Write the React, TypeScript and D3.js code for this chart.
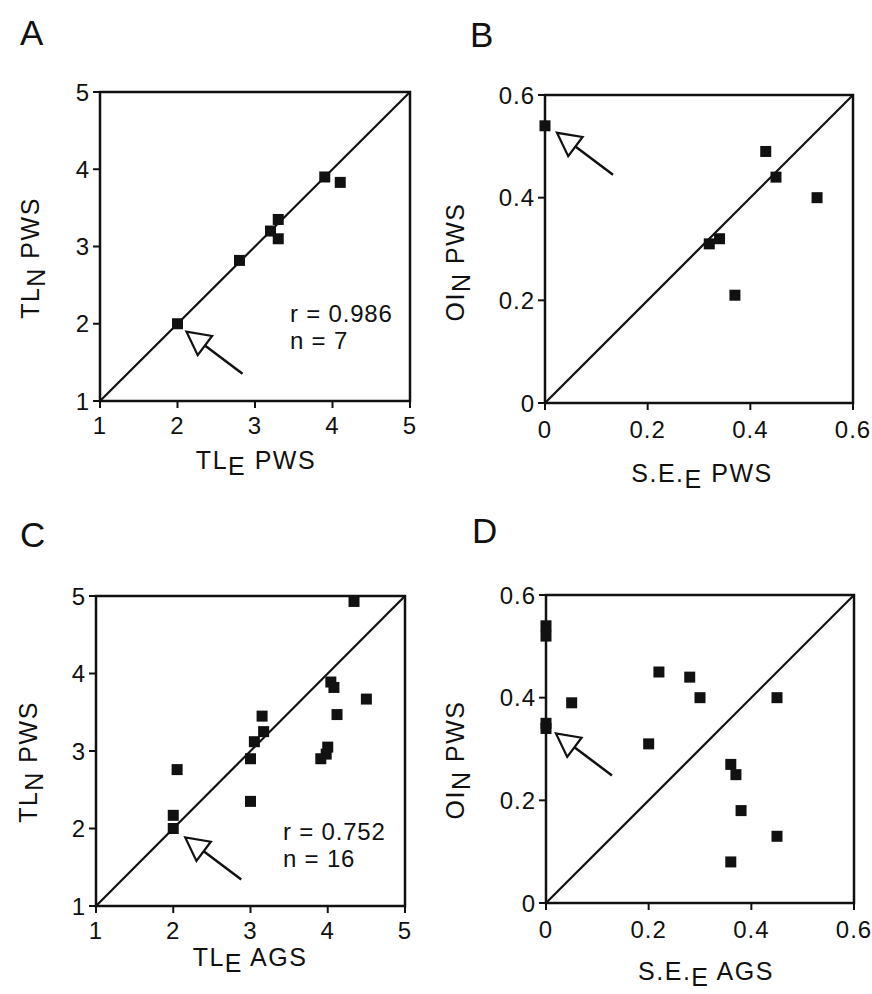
import React from 'react';
import * as d3 from 'd3';

// ---- Data ----
const aX = [2.0, 2.8, 3.2, 3.3, 3.3, 3.9, 4.1];
const aY = [2.0, 2.82, 3.2, 3.35, 3.1, 3.9, 3.83];

const bX = [0.0, 0.43, 0.45, 0.53, 0.32, 0.34, 0.37];
const bY = [0.54, 0.49, 0.44, 0.40, 0.31, 0.32, 0.21];

const cX = [4.34, 4.04, 4.08, 4.5, 4.12, 3.15, 3.17, 3.05, 3.0, 4.0, 3.98, 3.91, 2.05, 3.0, 2.0, 2.0];
const cY = [4.93, 3.89, 3.82, 3.67, 3.47, 3.45, 3.25, 3.12, 2.9, 3.05, 2.96, 2.9, 2.76, 2.35, 2.17, 2.0];

const dX = [0.0, 0.0, 0.0, 0.0, 0.05, 0.22, 0.28, 0.30, 0.45, 0.20, 0.36, 0.37, 0.38, 0.45, 0.36];
const dY = [0.54, 0.52, 0.35, 0.34, 0.39, 0.45, 0.44, 0.40, 0.40, 0.31, 0.27, 0.25, 0.18, 0.13, 0.08];

const tlTicks = [1, 2, 3, 4, 5];
const tlTickLabels = ['1', '2', '3', '4', '5'];
const seTicks = [0, 0.2, 0.4, 0.6];
const seTickLabels = ['0', '0.2', '0.4', '0.6'];

const statA = ['r = 0.986', 'n = 7'];
const statC = ['r = 0.752', 'n = 16'];

const FONT = '"Liberation Sans", Arial, Helvetica, sans-serif';

type PanelProps = {
  letter: string;
  letterX: number;
  letterY: number;
  x0: number; x1: number; y0: number; y1: number;
  domain: [number, number];
  ticks: number[];
  tickLabels: string[];
  xs: number[];
  ys: number[];
  arrowIdx: number;
  arrowOff: [number, number];
  tickDy: number;
  xMain: string; xSub: string; xRest: string;
  xTitleX: number; xTitleY: number;
  yMain: string; ySub: string; yRest: string;
  yTitleX: number; yTitleY: number;
  stat?: string[];
  statX?: number; statY?: number;
};

function Panel(p: PanelProps) {
  const xs = d3.scaleLinear().domain(p.domain).range([p.x0, p.x1]);
  const ys = d3.scaleLinear().domain(p.domain).range([p.y1, p.y0]);
  const fs = 24;
  const ls = 1;
  const sq = 11;
  const tfs = 25;
  const sub = 6;
  const diag = d3.line<number>().x((v) => xs(v)).y((v) => ys(v))(p.domain) || '';

  // arrow: tip offset from highlighted point, pointing up-left
  const px = xs(p.xs[p.arrowIdx]);
  const py = ys(p.ys[p.arrowIdx]);
  const tipX = px + p.arrowOff[0];
  const tipY = py + p.arrowOff[1];
  const ux = 0.8, uy = 0.6; // direction tip -> tail
  const headL = 23, headW = 12, totalL = 70;
  const bx = tipX + ux * headL, by = tipY + uy * headL;
  const c1x = bx - uy * headW, c1y = by + ux * headW;
  const c2x = bx + uy * headW, c2y = by - ux * headW;
  const tailX = tipX + ux * totalL, tailY = tipY + uy * totalL;

  return (
    <g fontFamily={FONT} fill="#111">
      <text x={p.letterX} y={p.letterY} fontSize={35}>{p.letter}</text>
      {/* ticks */}
      {p.ticks.map((t, i) => (
        <g key={'x' + i}>
          <line x1={xs(t)} x2={xs(t)} y1={p.y1} y2={p.y1 + 7} stroke="#111" strokeWidth={2} />
          <text x={xs(t)} y={p.y1 + p.tickDy} fontSize={fs} textAnchor="middle" letterSpacing={ls}>{p.tickLabels[i]}</text>
        </g>
      ))}
      {p.ticks.map((t, i) => (
        <g key={'y' + i}>
          <line x1={p.x0 - 7} x2={p.x0} y1={ys(t)} y2={ys(t)} stroke="#111" strokeWidth={2} />
          <text x={p.x0 - 10} y={ys(t) + 8.5} fontSize={fs} textAnchor="end" letterSpacing={ls}>{p.tickLabels[i]}</text>
        </g>
      ))}
      {/* frame */}
      <rect x={p.x0} y={p.y0} width={p.x1 - p.x0} height={p.y1 - p.y0} fill="none" stroke="#111" strokeWidth={2.5} />
      {/* identity line */}
      <path d={diag} fill="none" stroke="#111" strokeWidth={2.2} />
      {/* points */}
      {p.xs.map((v, i) => (
        <rect key={'p' + i} x={xs(v) - sq / 2} y={ys(p.ys[i]) - sq / 2} width={sq} height={sq} fill="#111" />
      ))}
      {/* arrow */}
      <line x1={bx} y1={by} x2={tailX} y2={tailY} stroke="#111" strokeWidth={2.5} />
      <polygon points={`${tipX},${tipY} ${c1x},${c1y} ${c2x},${c2y}`} fill="#fff" stroke="#111" strokeWidth={2.2} strokeLinejoin="miter" />
      {/* stats */}
      {p.stat && p.stat.map((s, i) => (
        <text key={'s' + i} x={p.statX} y={(p.statY || 0) + i * 27} fontSize={fs} letterSpacing={0.8}>{s}</text>
      ))}
      {/* x title */}
      <text x={p.xTitleX} y={p.xTitleY} fontSize={tfs} textAnchor="middle" letterSpacing={1.5}>
        {p.xMain}<tspan dy={sub}>{p.xSub}</tspan><tspan dy={-sub}>{p.xRest}</tspan>
      </text>
      {/* y title */}
      <text transform={`translate(${p.yTitleX},${p.yTitleY}) rotate(-90)`} fontSize={tfs} textAnchor="middle" letterSpacing={1.5}>
        {p.yMain}<tspan dy={sub}>{p.ySub}</tspan><tspan dy={-sub}>{p.yRest}</tspan>
      </text>
    </g>
  );
}

export default function App() {
  return (
    <svg width={872} height={994} style={{ display: 'block', position: 'absolute', left: 0, top: 0, background: '#fff' }}>
      <rect x={0} y={0} width={872} height={994} fill="#fff" />
      <Panel letter="A" letterX={20} letterY={45}
        x0={100} x1={410} y0={92} y1={401} domain={[1, 5]} ticks={tlTicks} tickLabels={tlTickLabels}
        xs={aX} ys={aY} arrowIdx={0} arrowOff={[9, 8]} tickDy={33}
        xMain="TL" xSub="E" xRest=" PWS" xTitleX={256} xTitleY={469}
        yMain="TL" ySub="N" yRest=" PWS" yTitleX={39} yTitleY={258}
        stat={statA} statX={290} statY={322} />
      <Panel letter="B" letterX={470} letterY={47}
        x0={545} x1={853} y0={95} y1={403} domain={[0, 0.6]} ticks={seTicks} tickLabels={seTickLabels}
        xs={bX} ys={bY} arrowIdx={0} arrowOff={[12, 7]} tickDy={35}
        xMain="S.E." xSub="E" xRest=" PWS" xTitleX={702} xTitleY={482}
        yMain="OI" ySub="N" yRest=" PWS" yTitleX={464} yTitleY={262} />
      <Panel letter="C" letterX={20} letterY={547}
        x0={96} x1={405} y0={596} y1={906} domain={[1, 5]} ticks={tlTicks} tickLabels={tlTickLabels}
        xs={cX} ys={cY} arrowIdx={15} arrowOff={[12, 9]} tickDy={33}
        xMain="TL" xSub="E" xRest=" AGS" xTitleX={250} xTitleY={966}
        yMain="TL" ySub="N" yRest=" PWS" yTitleX={37} yTitleY={762}
        stat={statC} statX={283} statY={840} />
      <Panel letter="D" letterX={472} letterY={543}
        x0={546} x1={854} y0={595} y1={903} domain={[0, 0.6]} ticks={seTicks} tickLabels={seTickLabels}
        xs={dX} ys={dY} arrowIdx={3} arrowOff={[10, 5]} tickDy={35}
        xMain="S.E." xSub="E" xRest=" AGS" xTitleX={706} xTitleY={980}
        yMain="OI" ySub="N" yRest=" PWS" yTitleX={464} yTitleY={760} />
    </svg>
  );
}
